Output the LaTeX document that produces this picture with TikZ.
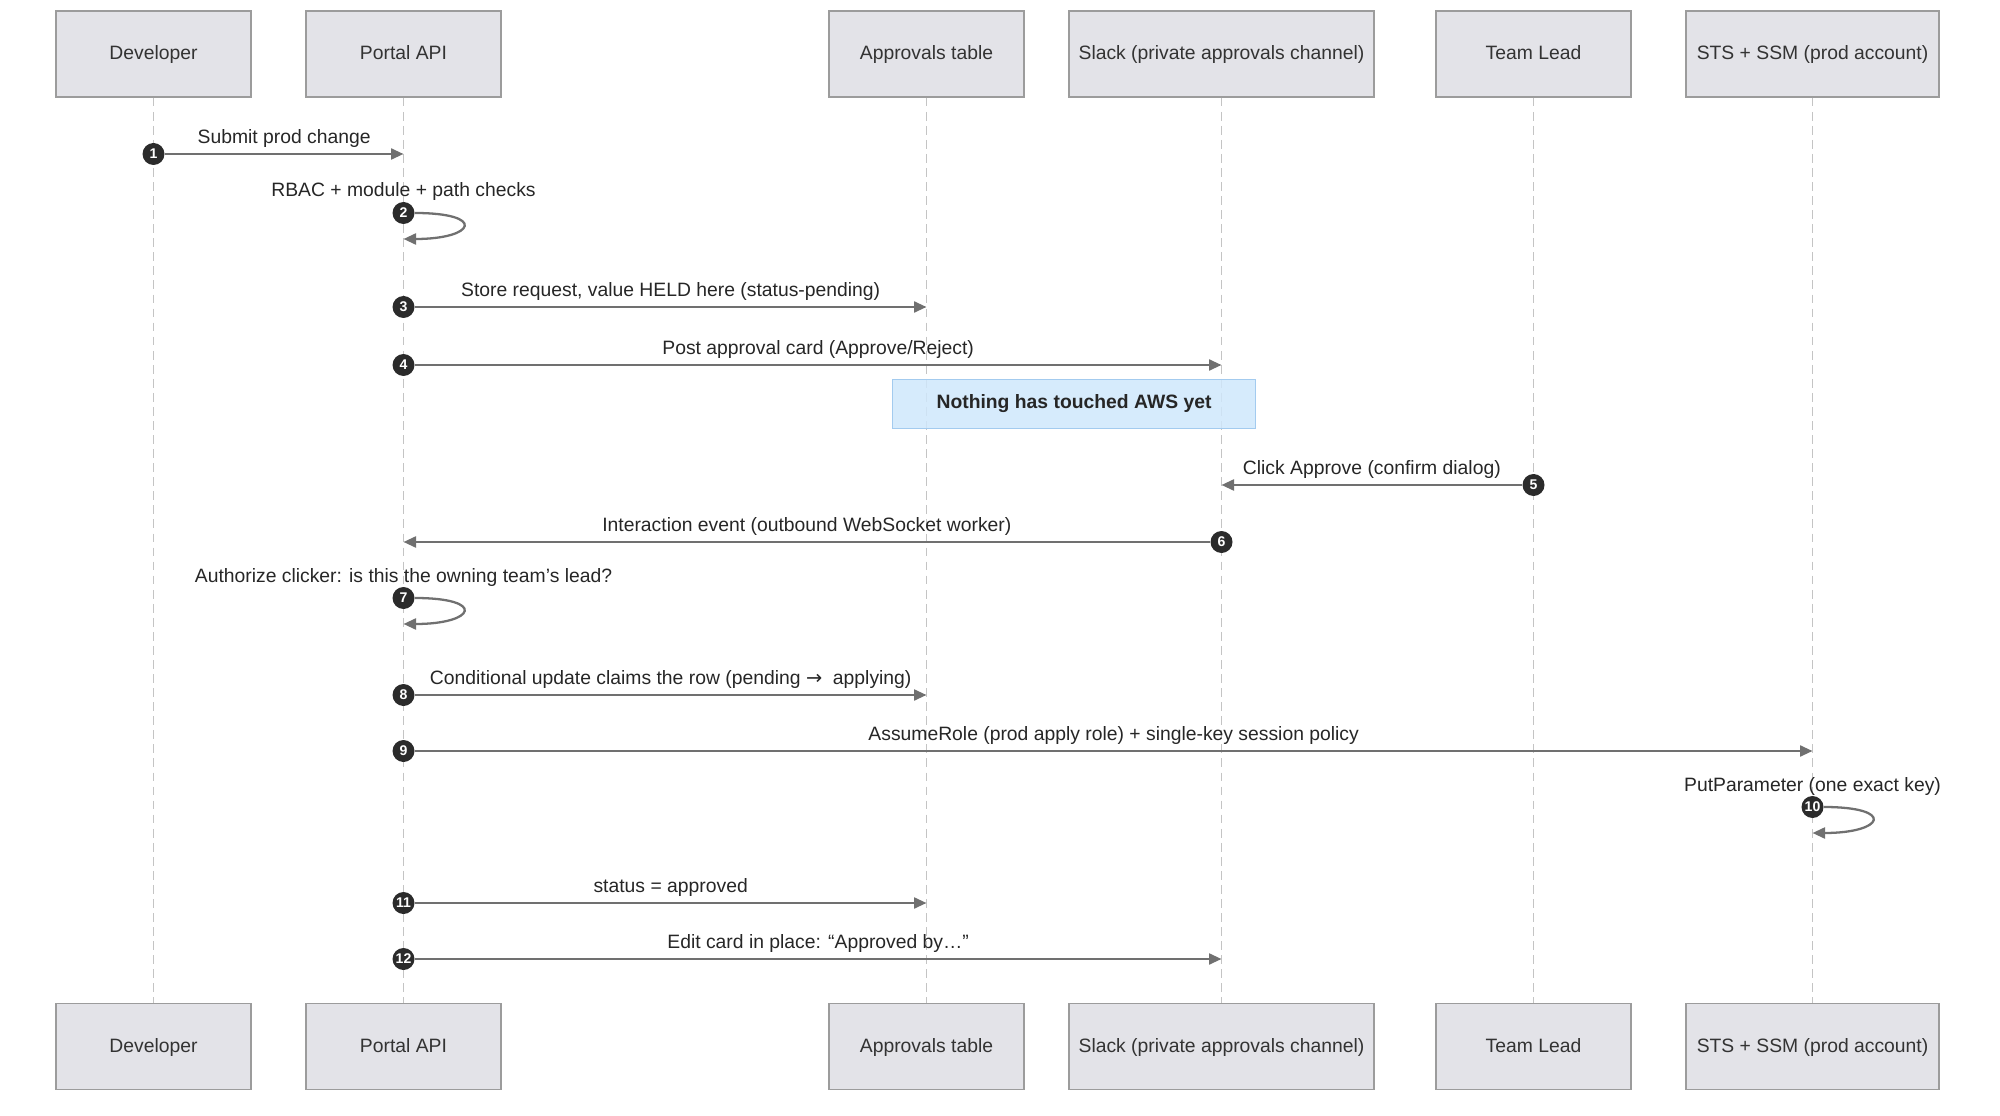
\documentclass[tikz,border=0pt]{standalone}
\usepackage{fontspec}
\setmainfont{Liberation Sans}
\newfontfamily\symbfont{DejaVu Sans}
\usetikzlibrary{arrows.meta}
\definecolor{actfill}{HTML}{E3E3E8}
\definecolor{actline}{HTML}{9C9C9C}
\definecolor{lifegray}{HTML}{C4C4C4}
\definecolor{msggray}{HTML}{707070}
\definecolor{numfill}{HTML}{2B2B2B}
\definecolor{notefill}{HTML}{CFE7FB}
\definecolor{noteline}{HTML}{A3CBEF}

\begin{document}
\begin{tikzpicture}[x=0.2mm, y=-0.2mm,
	every node/.style={font=\fontsize{11}{13}\selectfont, text=black!85},
	actor/.style={draw=actline, fill=actfill, line width=0.8pt, minimum height=17.2mm, inner sep=0pt, text height=1.6ex, text depth=0.4ex, text=black!80},
	life/.style={draw=lifegray, line width=0.8pt, dash pattern=on 5pt off 3pt},
	num/.style={circle, fill=numfill, text=white, minimum size=4.4mm, inner sep=0pt, font=\fontsize{8}{9}\selectfont\bfseries},
	msg/.style={draw=msggray, line width=1.3pt, -{Triangle[length=2.5mm, width=2.2mm]}},
	lbl/.style={midway, above=1.1mm, inner sep=0pt},
	note/.style={draw=noteline, fill=notefill, fill opacity=0.85, text opacity=1, line width=0.8pt, minimum width=72.6mm, minimum height=9.8mm, font=\fontsize{11}{13}\selectfont\bfseries}]
	\useasboundingbox (0,0) rectangle (2000,1116);
	\foreach \n/\x/\w/\t in {dev/153.5/195/Developer, api/403.5/195/Portal API, tbl/926.5/195/Approvals table, slack/1221.5/305/Slack (private approvals channel), lead/1533.5/195/Team Lead, sts/1812.5/253/STS + SSM (prod account)} {
		\node[actor, minimum width=\w*0.2mm] (\n) at (\x,54) {\t};
		\node[actor, minimum width=\w*0.2mm] (\n-b) at (\x,1046.5) {\t};
		\draw[life] (\n) -- (\n-b);
	}
	\node[note] (aws) at (1074,404) {Nothing has touched AWS yet};
	\foreach \k/\a/\b/\yy/\txt in {1/dev/api/154/Submit prod change, 3/api/tbl/307/{Store request, value HELD here (status-pending)}, 4/api/slack/365/{Post approval card (Approve/Reject)}, 5/lead/slack/485/Click Approve (confirm dialog), 6/slack/api/542/Interaction event (outbound WebSocket worker), 8/api/tbl/695/Conditional update claims the row (pending {\symbfont →}\ \ applying), 9/api/sts/751/AssumeRole (prod apply role) + single-key session policy, 11/api/tbl/903/status = approved, 12/api/slack/959/{Edit card in place: “Approved by\ldots”}} {
		\coordinate (e\k) at (\b.center |- 0,\yy);
		\node[num] (n\k) at (\a.center |- 0,\yy) {\k};
		\draw[msg] (n\k) -- node[lbl] (t\k) {\txt} (e\k);
	}
	\foreach \k/\a/\yy/\txt in {2/api/213/RBAC + module + path checks, 7/api/598/Authorize clicker: is this the owning team’s lead?, 10/sts/807/PutParameter (one exact key)} {
		\coordinate (e\k) at (\a.center |- 0,\yy+26);
		\node[num] (n\k) at (\a.center |- 0,\yy) {\k};
		\draw[msg] (n\k.east) to[out=0, in=0, looseness=6.5] (e\k);
		\node (t\k) at (\a.center |- 0,\yy-21) {\txt};
	}
\end{tikzpicture}
\end{document}
